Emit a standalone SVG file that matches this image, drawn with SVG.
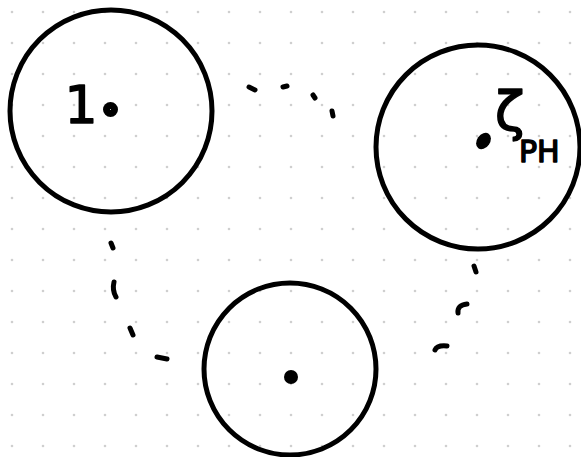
<svg xmlns="http://www.w3.org/2000/svg" width="581" height="457" viewBox="0 0 581 457">
  <style>
    .ring { fill: none; stroke: #000; stroke-width: 5; }
    .dot { fill: #000; }
    .dash { fill: none; stroke: #000; stroke-width: 5; stroke-linecap: round; stroke-linejoin: round; }
    .lbl { font-family: "DejaVu Sans", "Liberation Sans", sans-serif; fill: #000; stroke: #000; stroke-width: 1.5; stroke-linejoin: round; }
  </style>
  <defs>
    <pattern id="grid" width="31" height="31" patternUnits="userSpaceOnUse">
      <circle cx="12" cy="12" r="1.3" fill="#cfcfcf"/>
    </pattern>
  </defs>
  <rect width="581" height="457" fill="#fff"/>
  <rect width="581" height="457" fill="url(#grid)"/>

  <g id="connectors">
    <path class="dash" d="M249 87 L255 90"/>
    <path class="dash" d="M283 87 L287 86"/>
    <path class="dash" d="M313 95 L315 98"/>
    <path class="dash" d="M332 111 L333 116"/>
    <path class="dash" d="M111 243 L113 248"/>
    <path class="dash" d="M114 282 Q112 290 116 297"/>
    <path class="dash" d="M130 328 L133 335"/>
    <path class="dash" d="M157 357 L167 359"/>
    <path class="dash" d="M474 266 L476 272"/>
    <path class="dash" d="M458 313 Q457 305 467 304"/>
    <path class="dash" d="M435 350 Q437 345 447 346"/>
  </g>

  <g id="node-1">
    <circle class="ring" cx="111" cy="111" r="101"/>
    <text class="lbl" x="81" y="123" font-size="52" text-anchor="middle">1</text>
    <circle cx="110.5" cy="109.5" r="4" fill="none" stroke="#000" stroke-width="7"/>
  </g>

  <g id="node-2">
    <circle class="ring" cx="478" cy="147" r="102"/>
    <ellipse class="dot" cx="0" cy="0" rx="9" ry="6.5" transform="translate(483.5 141) rotate(-55)"/>
    <text class="lbl" x="495" y="130" font-size="54">ζ</text>
    <text class="lbl" x="519" y="162" font-size="30">PH</text>
  </g>

  <g id="node-3">
    <circle class="ring" cx="290" cy="369" r="86"/>
    <circle class="dot" cx="291" cy="377" r="7"/>
  </g>
</svg>
